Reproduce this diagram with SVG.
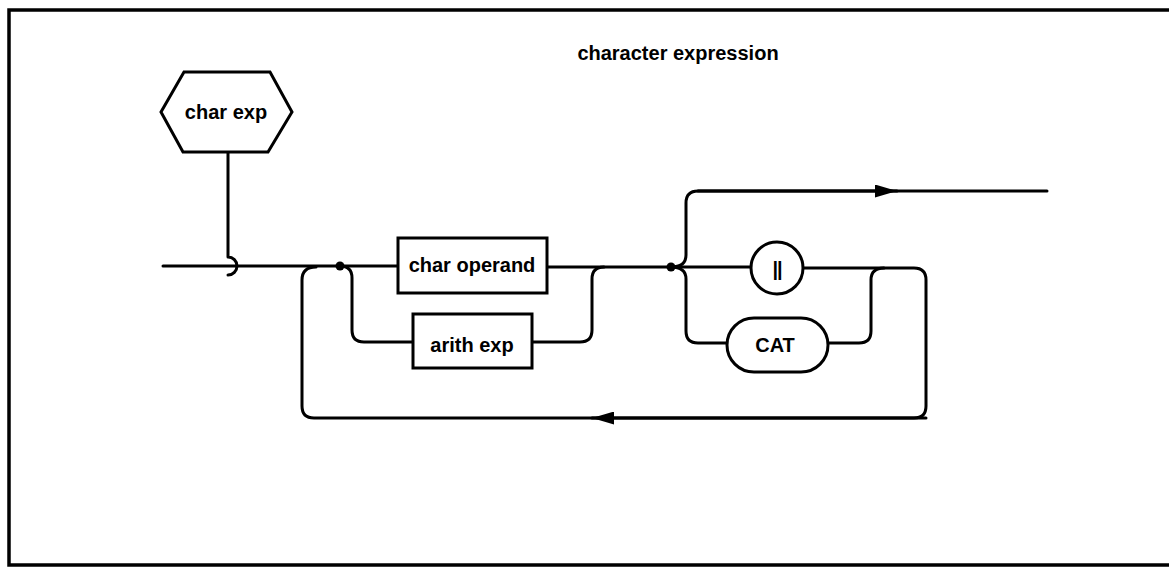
<svg xmlns="http://www.w3.org/2000/svg" width="1169" height="568" viewBox="0 0 1169 568">
<defs>
<style>
.ln{fill:none;stroke:#000;stroke-width:3;stroke-linecap:round;stroke-linejoin:round}
.bx{fill:#fff;stroke:#000;stroke-width:3}
.t{font-family:"Liberation Sans",Arial,sans-serif;font-weight:bold;font-size:20px;fill:#000;text-anchor:middle}
.dot{fill:#000}
</style>
<marker id="arr" viewBox="0 0 22 13" refX="22" refY="6.5" markerWidth="22" markerHeight="13" markerUnits="userSpaceOnUse" orient="auto">
<path d="M0,0 L22,6.5 L0,13 Z" fill="#000"/>
</marker>
</defs>
<rect width="1169" height="568" fill="#fff"/>
<rect x="9" y="10" width="1175" height="555" fill="none" stroke="#000" stroke-width="3.5"/>
<text class="t" x="678" y="60">character expression</text>

<g id="connectors">
<path class="ln" d="M228,152 V257 A9,9 0 0 1 228,275"/>
<path class="ln" d="M163,266 H398"/>
<path class="ln" d="M547,267 H751"/>
<path class="ln" d="M340,266 Q352,266 352,278 V330 Q352,342 364,342 H413"/>
<path class="ln" d="M532,342 H580 Q592,342 592,330 V279 Q592,267 604,267"/>
<path class="ln" d="M803,268 H914 Q926,268 926,280 V406 Q926,418 914,418 H314 Q302,418 302,406 V280 Q302,267 316,267"/>
<path class="ln" d="M926,418 H592" marker-end="url(#arr)"/>
<path class="ln" d="M671,267 Q686,267 686,279 V331 Q686,343 698,343 H727"/>
<path class="ln" d="M828,343 H859 Q871,343 871,331 V280 Q871,268 884,268"/>
<path class="ln" d="M671,267 Q686,267 686,255 V203 Q686,191 698,191 H1047"/>
<path class="ln" d="M698,191 H897" marker-end="url(#arr)"/>
<circle class="dot" cx="340" cy="266" r="4.5"/>
<circle class="dot" cx="671" cy="267" r="4.5"/>
</g>

<g id="char-exp">
<polygon class="bx" points="161,112 184,72 270,72 292,112 268,152 183,152"/>
<text class="t" x="226" y="119">char exp</text>
</g>

<g id="char-operand">
<rect class="bx" x="398" y="238" width="149" height="55"/>
<text class="t" x="472" y="272">char operand</text>
</g>

<g id="arith-exp">
<rect class="bx" x="413" y="314" width="119" height="54"/>
<text class="t" x="472" y="352">arith exp</text>
</g>

<g id="concat-bars">
<circle class="bx" cx="777" cy="268" r="26"/>
<text class="t" x="777" y="276" style="letter-spacing:-1px">||</text>
</g>

<g id="cat">
<rect class="bx" x="727" y="318" width="101" height="54" rx="27" ry="27"/>
<text class="t" x="775" y="352">CAT</text>
</g>
</svg>
